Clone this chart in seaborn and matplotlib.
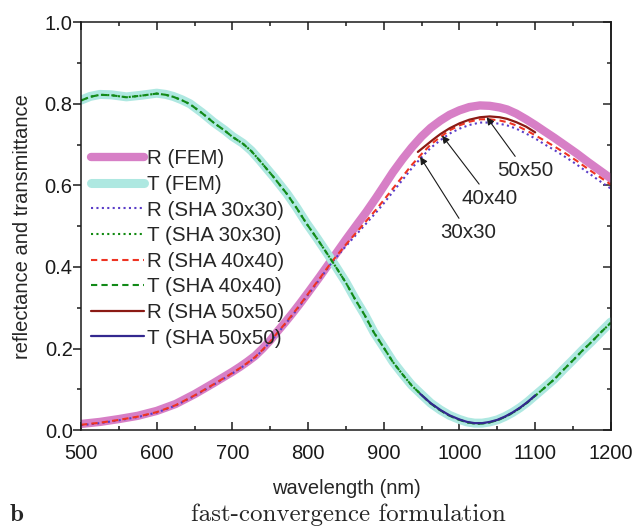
import numpy as np
import matplotlib.pyplot as plt
import seaborn as sns
from matplotlib.ticker import MultipleLocator

# reflectance R
wl_r = [500, 525, 550, 575, 600, 625, 650, 675, 700, 710, 720, 730, 740, 750, 760, 770, 780, 790,
        800, 815, 831, 850, 865, 877, 890, 900, 912, 925, 937, 950, 962, 975, 987, 1000, 1013, 1027,
        1040, 1053, 1063, 1075, 1088, 1100, 1112, 1125, 1142, 1155, 1170, 1185, 1200]
r_fem = [0.015, 0.020, 0.027, 0.035, 0.047, 0.064, 0.088, 0.115, 0.143, 0.155, 0.168, 0.182, 0.200,
         0.220, 0.243, 0.265, 0.288, 0.312, 0.337, 0.375, 0.417, 0.467, 0.505, 0.535, 0.570, 0.598,
         0.632, 0.665, 0.693, 0.720, 0.741, 0.759, 0.773, 0.784, 0.792, 0.796, 0.795, 0.791, 0.786,
         0.776, 0.762, 0.748, 0.733, 0.717, 0.695, 0.678, 0.657, 0.637, 0.617]
r_sha30 = [0.012, 0.017, 0.024, 0.032, 0.043, 0.060, 0.084, 0.111, 0.139, 0.151, 0.164, 0.178, 0.196,
           0.216, 0.238, 0.260, 0.283, 0.307, 0.332, 0.369, 0.410, 0.451, 0.482, 0.507, 0.534, 0.556,
           0.584, 0.614, 0.642, 0.669, 0.692, 0.711, 0.727, 0.739, 0.748, 0.754, 0.754, 0.751, 0.747,
           0.739, 0.727, 0.715, 0.701, 0.687, 0.667, 0.651, 0.631, 0.611, 0.592]
r_sha40 = [0.013, 0.018, 0.025, 0.033, 0.044, 0.061, 0.085, 0.112, 0.140, 0.152, 0.165, 0.179, 0.197,
           0.217, 0.240, 0.262, 0.285, 0.309, 0.334, 0.371, 0.412, 0.455, 0.487, 0.513, 0.541, 0.564,
           0.592, 0.622, 0.650, 0.677, 0.700, 0.719, 0.735, 0.747, 0.756, 0.762, 0.762, 0.759, 0.755,
           0.747, 0.735, 0.723, 0.710, 0.696, 0.676, 0.660, 0.640, 0.621, 0.602]
wl_r50 = [945, 955, 965, 975, 987, 1000, 1013, 1027, 1040, 1053, 1063, 1075, 1088, 1100]
r_sha50 = [0.682, 0.697, 0.712, 0.726, 0.740, 0.752, 0.761, 0.767, 0.769, 0.767, 0.763, 0.755,
           0.744, 0.730]

# transmittance T
wl_t = [500, 512, 525, 540, 560, 580, 600, 612, 622, 633, 644, 660, 675, 690, 700, 714, 725, 736,
        745, 755, 772, 785, 798, 812, 825, 837, 850, 862, 875, 887, 900, 912, 925, 937, 950, 962,
        975, 987, 1000, 1010, 1020, 1030, 1040, 1050, 1060, 1070, 1080, 1090, 1100, 1112, 1125,
        1137, 1150, 1162, 1175, 1187, 1200]
t_fem = [0.809, 0.818, 0.823, 0.822, 0.817, 0.821, 0.826, 0.823, 0.818, 0.810, 0.800, 0.778, 0.755,
         0.735, 0.720, 0.703, 0.685, 0.662, 0.642, 0.620, 0.580, 0.545, 0.507, 0.470, 0.434, 0.400,
         0.362, 0.322, 0.282, 0.240, 0.203, 0.168, 0.137, 0.110, 0.087, 0.066, 0.049, 0.036, 0.026,
         0.020, 0.017, 0.017, 0.020, 0.025, 0.033, 0.043, 0.055, 0.069, 0.085, 0.104, 0.125, 0.148,
         0.172, 0.195, 0.218, 0.241, 0.265]
t_sha30 = [0.808, 0.817, 0.822, 0.821, 0.816, 0.820, 0.825, 0.822, 0.817, 0.809, 0.799, 0.777, 0.754,
           0.734, 0.719, 0.702, 0.684, 0.661, 0.641, 0.619, 0.579, 0.544, 0.506, 0.469, 0.433, 0.399,
           0.361, 0.321, 0.281, 0.239, 0.202, 0.167, 0.136, 0.109, 0.086, 0.065, 0.048, 0.035, 0.025,
           0.019, 0.016, 0.016, 0.019, 0.024, 0.032, 0.042, 0.054, 0.068, 0.084, 0.103, 0.124, 0.147,
           0.171, 0.194, 0.217, 0.240, 0.263]
t_sha40 = [0.808, 0.817, 0.822, 0.821, 0.816, 0.820, 0.825, 0.822, 0.817, 0.809, 0.799, 0.777, 0.754,
           0.734, 0.719, 0.702, 0.684, 0.661, 0.641, 0.619, 0.579, 0.544, 0.506, 0.469, 0.433, 0.399,
           0.361, 0.321, 0.281, 0.239, 0.202, 0.167, 0.136, 0.109, 0.086, 0.065, 0.048, 0.035, 0.025,
           0.019, 0.016, 0.016, 0.019, 0.024, 0.032, 0.042, 0.054, 0.068, 0.084, 0.103, 0.124, 0.147,
           0.171, 0.194, 0.217, 0.240, 0.263]
wl_t50 = [948, 962, 975, 987, 1000, 1010, 1020, 1030, 1040, 1050, 1060, 1070, 1080, 1090, 1100]
t_sha50 = [0.089, 0.066, 0.049, 0.036, 0.026, 0.020, 0.017, 0.017, 0.020, 0.025, 0.033, 0.043,
           0.055, 0.069, 0.085]

# annotation labels: (text, arrow tip, text position)
notes = [('50x50', (1036, 0.767), (1087, 0.637)),
         ('40x40', (977, 0.722), (1040, 0.569)),
         ('30x30', (948, 0.670), (1011, 0.485))]

sns.set_theme(style='ticks')
plt.rcParams['font.family'] = ['Liberation Sans', 'DejaVu Sans']

fig, ax = plt.subplots(figsize=(6.33, 5.29), dpi=100)
fig.subplots_adjust(left=0.128, right=0.965, top=0.958, bottom=0.187)

sns.lineplot(x=wl_r, y=r_fem, ax=ax, color='#d77fc6', lw=6, solid_capstyle='round', label='R (FEM)')
sns.lineplot(x=wl_t, y=t_fem, ax=ax, color='#aee8e1', lw=6.5, solid_capstyle='round', label='T (FEM)')
sns.lineplot(x=wl_r, y=r_sha30, ax=ax, color='#5a3dc8', lw=1.5, linestyle=(0, (1, 1.6)), label='R (SHA 30x30)')
sns.lineplot(x=wl_t, y=t_sha30, ax=ax, color='#118a11', lw=1.5, linestyle=(0, (1, 1.6)), label='T (SHA 30x30)')
sns.lineplot(x=wl_r, y=r_sha40, ax=ax, color='#ee3322', lw=1.5, linestyle=(0, (3, 2)), label='R (SHA 40x40)')
sns.lineplot(x=wl_t, y=t_sha40, ax=ax, color='#128a18', lw=1.5, linestyle=(0, (3, 2)), label='T (SHA 40x40)')
sns.lineplot(x=wl_r50, y=r_sha50, ax=ax, color='#8b1a14', lw=1.6, label='R (SHA 50x50)')
sns.lineplot(x=wl_t50, y=t_sha50, ax=ax, color='#33288f', lw=1.6, label='T (SHA 50x50)')

for txt, tip, pos in notes:
    ax.annotate(txt, xy=tip, xytext=pos, fontsize=14.8, ha='center', va='center',
                arrowprops=dict(arrowstyle='-|>', color='k', lw=0.8, shrinkA=1, shrinkB=0,
                                mutation_scale=11))

ax.set_xlim(500, 1200)
ax.set_ylim(0, 1.0)
ax.xaxis.set_major_locator(MultipleLocator(100))
ax.xaxis.set_minor_locator(MultipleLocator(50))
ax.yaxis.set_major_locator(MultipleLocator(0.2))
ax.yaxis.set_minor_locator(MultipleLocator(0.1))
ax.yaxis.set_major_formatter(plt.FormatStrFormatter('%.1f'))
for s in ax.spines.values():
    s.set_visible(True)
    s.set_linewidth(1.1)
    s.set_color('k')
ax.tick_params(axis='x', which='both', direction='in', top=True, bottom=True, labelsize=14.5,
               colors='k', pad=10)
ax.tick_params(axis='y', which='both', direction='out', left=True, labelsize=14.5, colors='k', pad=0.5)
ax.tick_params(which='major', length=5.5, width=1.1)
ax.tick_params(which='minor', length=3, width=1.1)
# right side ticks point inward
ax2 = ax.secondary_yaxis('right')
ax2.yaxis.set_major_locator(MultipleLocator(0.2))
ax2.yaxis.set_minor_locator(MultipleLocator(0.1))
ax2.tick_params(which='both', direction='in', labelright=False, width=1.1)
ax2.tick_params(which='major', length=5.5)
ax2.tick_params(which='minor', length=3)
ax2.spines['right'].set_linewidth(1.1)

ax.set_xlabel('wavelength (nm)', fontsize=14.5, labelpad=11.5)
ax.set_ylabel('reflectance and transmittance', fontsize=14.5, labelpad=9)

ax.legend(loc='upper left', bbox_to_anchor=(0.018, 0.688), frameon=False, fontsize=14.8,
          handlelength=2.6, handletextpad=0.15, labelspacing=0.32, borderpad=0, borderaxespad=0)

fig.text(0.015, 0.026, 'b', family='cmb10', fontsize=18, va='center')
fig.text(0.551, 0.026, 'fast-convergence formulation', family='cmr10', fontsize=18,
         ha='center', va='center')

plt.savefig('out.png', dpi=100)
